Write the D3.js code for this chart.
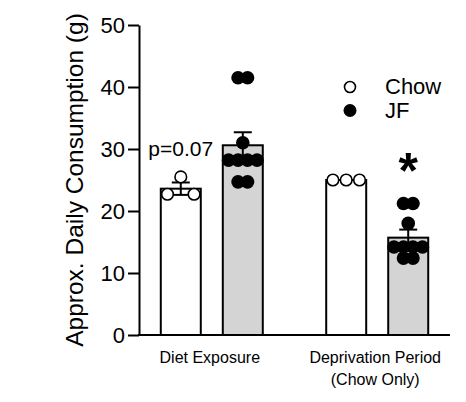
<!DOCTYPE html>
<html>
<head>
<meta charset="utf-8">
<script src="https://cdn.jsdelivr.net/npm/d3@7/dist/d3.min.js"></script>
<style>
  html, body { margin: 0; padding: 0; background: #fff; }
  svg { display: block; font-family: "Liberation Sans", Arial, sans-serif; }
</style>
</head>
<body>
<svg id="chart" width="466" height="402"></svg>
<script>
// values
const groups      = ['Diet Exposure', 'Deprivation Period'];
const groupLines  = [['Diet Exposure'], ['Deprivation Period', '(Chow Only)']];
const series      = ['Chow', 'JF'];
const chowMean    = [23.6, 25.0];
const chowSem     = [1.0, 0];
const jfMean      = [30.6, 15.7];
const jfSem       = [2.1, 1.3];
const chowPoints  = [[25.5, 22.7, 22.7], [25.0, 25.0, 25.0]];
const jfPoints    = [[41.5, 41.5, 31.0, 28.2, 28.2, 28.2, 28.2, 24.7, 24.7],
                     [21.2, 21.2, 18.0, 14.2, 14.2, 14.2, 14.2, 12.4, 12.4]];
const yTicks      = [0, 10, 20, 30, 40, 50];
const pText       = 'p=0.07';

const svg = d3.select('#chart');

const axisX = 139, plotRight = 450;
const y = d3.scaleLinear().domain([0, 50]).range([335, 25]);
const xGroup = d3.scalePoint().domain(groups).range([axisX, plotRight]).padding(0.44);
const xSeries = d3.scaleBand().domain(series).range([-51, 51]).paddingInner(0.355);

const style = {
    Chow: {fill: '#ffffff', dot: '#ffffff', r: 5.8, sw: 1.6, spread: 13.3, skipCenter: true},
    JF:   {fill: '#d4d4d4', dot: '#000000', r: 6.8, sw: 0, spread: 9.5, skipCenter: false}
};

// flatten into bar records
const bars = [];
groups.forEach((g, i) => {
    bars.push({group: g, s: 'Chow', mean: chowMean[i], sem: chowSem[i], pts: chowPoints[i]});
    bars.push({group: g, s: 'JF', mean: jfMean[i], sem: jfSem[i], pts: jfPoints[i]});
});
const cx = d => xGroup(d.group) + xSeries(d.s) + xSeries.bandwidth() / 2;

// bars
svg.append('g').selectAll('rect').data(bars).join('rect')
    .attr('x', d => xGroup(d.group) + xSeries(d.s))
    .attr('y', d => y(d.mean))
    .attr('width', xSeries.bandwidth())
    .attr('height', d => y(0) - y(d.mean))
    .attr('fill', d => style[d.s].fill)
    .attr('stroke', '#000')
    .attr('stroke-width', 2);

// error bars (mean +/- sem)
const capW = 18;
const eb = svg.append('g').attr('stroke', '#000').attr('stroke-width', 2);
bars.forEach(d => {
    const x = cx(d), hi = y(d.mean + d.sem), lo = y(d.mean - d.sem);
    eb.append('line').attr('x1', x).attr('x2', x).attr('y1', hi).attr('y2', lo);
    eb.append('line').attr('x1', x - capW / 2).attr('x2', x + capW / 2).attr('y1', hi).attr('y2', hi);
    eb.append('line').attr('x1', x - capW / 2).attr('x2', x + capW / 2).attr('y1', lo).attr('y2', lo);
});

// scatter points: equal values share a row, spread symmetrically
function spreadRow(k, st) {
    const out = [];
    if (k % 2 || !st.skipCenter) {
        for (let i = 0; i < k; i++) out.push((i - (k - 1) / 2) * st.spread);
    } else {
        for (let j = 1; j <= k / 2; j++) out.push(-j * st.spread, j * st.spread);
    }
    return out.sort((a, b) => a - b);
}
const dots = [];
bars.forEach(d => {
    const rows = d3.groups(d.pts, v => v);
    rows.forEach(([v, vals]) => {
        spreadRow(vals.length, style[d.s]).forEach(off => {
            dots.push({s: d.s, v: v, x: cx(d) + off});
        });
    });
});
svg.append('g').selectAll('circle').data(dots).join('circle')
    .attr('cx', d => d.x)
    .attr('cy', d => y(d.v))
    .attr('r', d => style[d.s].r)
    .attr('fill', d => style[d.s].dot)
    .attr('stroke', '#000')
    .attr('stroke-width', d => style[d.s].sw);

// y axis
const yAxis = svg.append('g')
    .attr('transform', `translate(${axisX},0)`)
    .call(d3.axisLeft(y).tickValues(yTicks).tickSize(11).tickSizeOuter(0).tickPadding(3));
yAxis.select('.domain').attr('stroke-width', 2);
yAxis.selectAll('.tick line').attr('stroke-width', 2);
yAxis.selectAll('.tick text')
    .attr('font-size', 22)
    .attr('font-family', '"Liberation Sans", Arial, sans-serif')
    .attr('fill', '#000');

// x baseline
svg.append('line')
    .attr('x1', axisX - 1).attr('x2', plotRight)
    .attr('y1', y(0)).attr('y2', y(0))
    .attr('stroke', '#000').attr('stroke-width', 2);

// group labels
groups.forEach((g, i) => {
    const t = svg.append('text')
        .attr('x', xGroup(g) - 2)
        .attr('y', 363)
        .attr('text-anchor', 'middle')
        .attr('font-size', 16);
    groupLines[i].forEach((line, j) => {
        t.append('tspan').attr('x', xGroup(g) - 2).attr('dy', j ? 22 : 0).text(line);
    });
});

// y title
svg.append('text')
    .attr('transform', 'translate(83,180) rotate(-90)')
    .attr('text-anchor', 'middle')
    .attr('font-size', 24.5)
    .text('Approx. Daily Consumption (g)');

// annotations
const b0 = bars[0];
svg.append('text')
    .attr('x', cx(b0)).attr('y', y(d3.max(b0.pts)) - 21)
    .attr('text-anchor', 'middle')
    .attr('font-size', 21)
    .text(pText);
const b3 = bars[3];
svg.append('text')
    .attr('x', cx(b3)).attr('y', y(d3.max(b3.pts)) - 16)
    .attr('text-anchor', 'middle')
    .attr('font-size', 50)
    .attr('font-weight', 'bold')
    .text('*');

// legend
const legend = svg.append('g').attr('transform', 'translate(350,87)');
series.forEach((s, i) => {
    const row = legend.append('g').attr('transform', `translate(0,${i * 23.5})`);
    row.append('circle')
        .attr('r', style[s].r - 0.3)
        .attr('fill', style[s].dot)
        .attr('stroke', '#000')
        .attr('stroke-width', style[s].sw);
    row.append('text')
        .attr('x', 35).attr('y', 7)
        .attr('font-size', 22)
        .text(s);
});
</script>
</body>
</html>
